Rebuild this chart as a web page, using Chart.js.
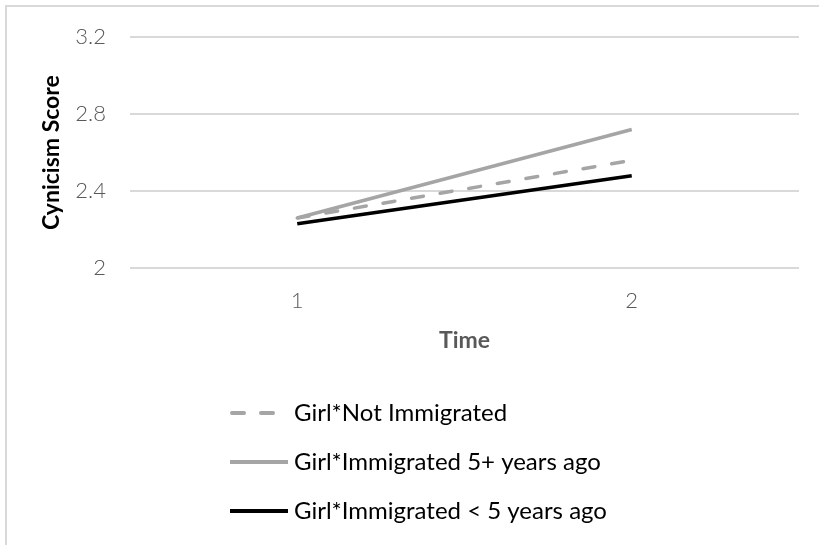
<!DOCTYPE html>
<html lang="en">
<head>
    <meta charset="utf-8" />
    <title>Cynicism Score by Time</title>
    <style>
        html, body {
            margin: 0;
            padding: 0;
            background: #ffffff;
            overflow: hidden;
        }
        .frame {
            position: absolute;
            left: 5px;
            top: 5px;
            width: 840px;
            height: 580px;
            border: 2px solid #d9d9d9;
        }
        .chart-box {
            position: absolute;
            left: 0;
            top: 0;
            width: 819px;
            height: 545px;
        }
    </style>
</head>
<body>
    <div class="frame"></div>
    <div class="chart-box">
        <canvas id="myChart" width="819" height="545"></canvas>
    </div>

    <script src="https://cdn.jsdelivr.net/npm/chart.js@4.4.0/dist/chart.umd.min.js"></script>
    <script type="text/JavaScript">

        // time points on the x axis
        var categories = ['1', '2'];
        var yTicks = [2, 2.4, 2.8, 3.2];

        var seriesNames = ['Girl*Not Immigrated', 'Girl*Immigrated 5+ years ago', 'Girl*Immigrated < 5 years ago'];
        var notImmigrated = [2.26, 2.56];
        var immigrated5Plus = [2.26, 2.72];
        var immigratedUnder5 = [2.23, 2.48];

        var GRAY = '#a5a5a5';
        var TEXT_GRAY = '#595959';
        var FONT = "Lato, 'Open Sans', 'Noto Sans', sans-serif";

        // legend stacked one item per row under the axis, drawn from the datasets
        var stackedLegend = {
            id: 'stackedLegend',
            afterDraw: function (chart) {
                var ctx = chart.ctx;
                var sets = chart.data.datasets;
                ctx.save();
                ctx.font = '24px ' + FONT;
                ctx.textBaseline = 'middle';
                ctx.textAlign = 'left';
                for (var i = 0; i < sets.length; i++) {
                    var ds = sets[i];
                    var y = 413 + i * 49;
                    ctx.beginPath();
                    ctx.lineWidth = 4;
                    ctx.strokeStyle = ds.borderColor;
                    ctx.lineCap = ds.borderDash ? 'round' : 'butt';
                    ctx.setLineDash(ds.borderDash || []);
                    ctx.moveTo(ds.borderDash ? 232 : 230, y);
                    ctx.lineTo(288, y);
                    ctx.stroke();
                    ctx.setLineDash([]);
                    ctx.fillStyle = '#000000';
                    ctx.fillText(ds.label, 294, y);
                }
                ctx.restore();
            }
        };

        var ctx = document.getElementById('myChart');
        var myChart = new Chart(ctx, {
            type: 'line',
            data: {
                labels: categories,
                datasets: [{
                    label: seriesNames[0],
                    data: notImmigrated,
                    borderColor: GRAY,
                    borderWidth: 3.5,
                    borderDash: [12, 17],
                    borderCapStyle: 'round',
                    pointRadius: 0,
                    fill: false
                }, {
                    label: seriesNames[1],
                    data: immigrated5Plus,
                    borderColor: GRAY,
                    borderWidth: 3.5,
                    pointRadius: 0,
                    fill: false
                }, {
                    label: seriesNames[2],
                    data: immigratedUnder5,
                    borderColor: '#000000',
                    borderWidth: 3.5,
                    pointRadius: 0,
                    fill: false
                }]
            },
            options: {
                responsive: false,
                animation: false,
                layout: {
                    padding: { top: 33, right: 20, bottom: 187, left: 0 }
                },
                plugins: {
                    legend: { display: false },
                    tooltip: { enabled: false }
                },
                scales: {
                    x: {
                        offset: true,
                        grid: { display: false },
                        border: { display: false },
                        ticks: {
                            color: TEXT_GRAY,
                            padding: 12,
                            font: { family: FONT, size: 22, weight: '300' }
                        },
                        title: {
                            display: true,
                            text: 'Time',
                            color: TEXT_GRAY,
                            padding: { top: 0, bottom: 4 },
                            font: { family: FONT, size: 23, weight: 'bold' }
                        },
                        afterFit: function (scale) {
                            scale.height = 90;
                        }
                    },
                    y: {
                        min: 2,
                        max: 3.2,
                        grid: {
                            color: '#d9d9d9',
                            lineWidth: 2,
                            drawTicks: false
                        },
                        border: { display: false },
                        ticks: {
                            color: TEXT_GRAY,
                            padding: 24,
                            font: { family: FONT, size: 22, weight: '300' },
                            callback: function (value) {
                                return String(value);
                            }
                        },
                        afterBuildTicks: function (scale) {
                            scale.ticks = yTicks.map(function (v) { return { value: v }; });
                        },
                        title: {
                            display: true,
                            text: 'Cynicism Score',
                            color: '#000000',
                            padding: { top: 38, bottom: 0 },
                            font: { family: FONT, size: 23, weight: 'bold' }
                        },
                        afterFit: function (scale) {
                            scale.width = 130;
                        }
                    }
                }
            },
            plugins: [stackedLegend]
        });
    </script>
</body>
</html>
